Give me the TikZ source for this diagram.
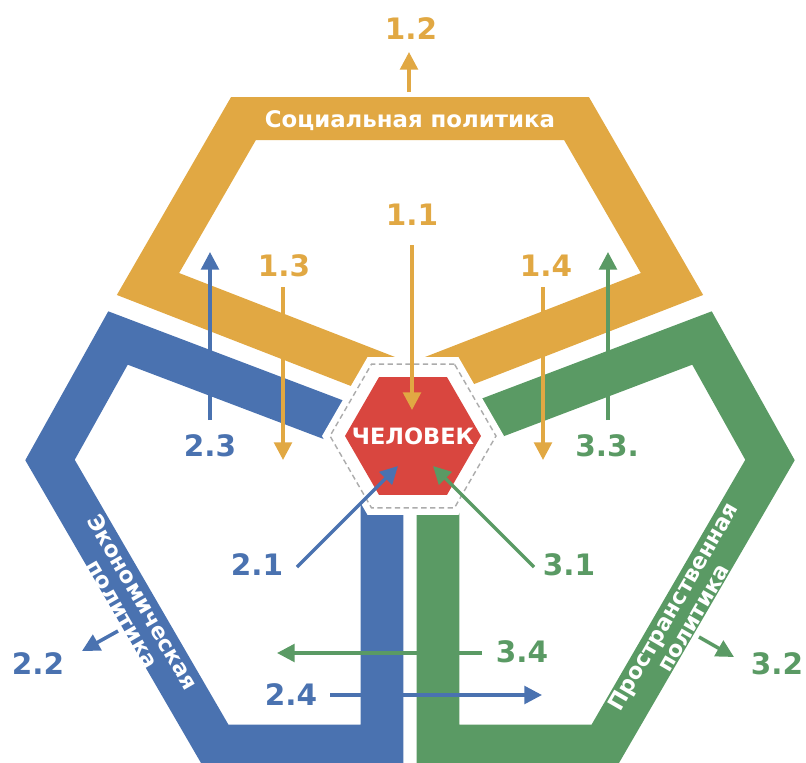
\documentclass[tikz,border=0pt]{standalone}
\usepackage{fontspec}
\setmainfont{DejaVu Sans}
\usetikzlibrary{arrows.meta,shapes.geometric}

\definecolor{socC}{HTML}{E1A843}
\definecolor{ecoC}{HTML}{4A72B0}
\definecolor{spaC}{HTML}{5A9A64}
\definecolor{manC}{HTML}{D9463F}

\begin{document}
\begin{tikzpicture}[x=0.02cm,y=-0.02cm,
  band/.style={line width=0.86cm,line join=miter},
  hexa/.style={regular polygon,regular polygon sides=6,inner sep=0pt},
  num/.style={font=\fontsize{16.8}{19}\selectfont\bfseries},
  flow/.style={line width=2pt,-{Triangle[length=10pt,width=10pt]}},
  policy/.style={font=\fontsize{12.6}{13.2}\selectfont\bfseries,text=white,align=center}]
  \useasboundingbox (0,0) rectangle (806,762);
  \clip (0,0) rectangle (806,762);

  % the three policy bands
  \draw[band,socC] (400,382) -- (148,284) -- (243.5,118.5) -- (576.5,118.5) -- (672,284) -- (420,382);
  \draw[band,ecoC] (400,445) -- (118,338) -- (50,460) -- (216,746) -- (382,746) -- (382,440);
  \draw[band,spaC] (420,445) -- (702,338) -- (770,460) -- (604,746) -- (438,746) -- (438,440);

  % centre
  \node[hexa,fill=white,minimum size=3.64cm] (clear) at (413,436) {};
  \node[hexa,draw=gray!65,dash pattern=on 3pt off 2pt,line width=0.8pt,minimum size=3.32cm] (ring) at (413,436) {};
  \node[hexa,fill=manC,minimum size=2.72cm] (man) at (413,436) {};
  \node[font=\fontsize{12.8}{14}\selectfont\bfseries,text=white] (mantext) at (man.center) {ЧЕЛОВЕК};

  % band titles
  \node[font=\fontsize{13}{15}\selectfont\bfseries,text=white] (soc) at (410,121) {Социальная политика};
  \node[policy,rotate=-60] (eco) at (133,608) {Экономическая\\политика};
  \node[policy,rotate=60] (spa) at (683,612) {Пространственная\\политика};

  % labels
  \node[num,text=socC] (l11) at (412,215) {1.1};
  \node[num,text=socC] (l12) at (411,29) {1.2};
  \node[num,text=socC] (l13) at (284,266) {1.3};
  \node[num,text=socC] (l14) at (546,266) {1.4};
  \node[num,text=ecoC] (l21) at (257,565) {2.1};
  \node[num,text=ecoC] (l22) at (38,664) {2.2};
  \node[num,text=ecoC] (l23) at (210,446) {2.3};
  \node[num,text=ecoC] (l24) at (291,695) {2.4};
  \node[num,text=spaC] (l31) at (569,565) {3.1};
  \node[num,text=spaC] (l32) at (777,664) {3.2};
  \node[num,text=spaC] (l33) at (607,446) {3.3.};
  \node[num,text=spaC] (l34) at (522,652) {3.4};

  % arrow ends
  \coordinate (s11) at (412,245); \coordinate (e11) at (412,410);
  \coordinate (s12) at (409,92);  \coordinate (e12) at (409,52);
  \coordinate (s13) at (283,287); \coordinate (e13) at (283,460);
  \coordinate (s14) at (543,287); \coordinate (e14) at (543,460);
  \coordinate (s21) at (297,567); \coordinate (e21) at (398,466);
  \coordinate (s22) at (118,631); \coordinate (e22) at (82,651);
  \coordinate (s23) at (210,420); \coordinate (e23) at (210,252);
  \coordinate (s24) at (330,695); \coordinate (e24) at (542,695);
  \coordinate (s31) at (534,567); \coordinate (e31) at (433,466);
  \coordinate (s32) at (699,637); \coordinate (e32) at (734,657);
  \coordinate (s33) at (608,420); \coordinate (e33) at (608,252);
  \coordinate (s34) at (482,653); \coordinate (e34) at (277,653);

  % arrows
  \draw[flow,socC] (s11) -- (e11);
  \draw[flow,socC] (s12) -- (e12);
  \draw[flow,socC] (s13) -- (e13);
  \draw[flow,socC] (s14) -- (e14);
  \draw[flow,ecoC] (s21) -- (e21);
  \draw[flow,ecoC] (s22) -- (e22);
  \draw[flow,ecoC] (s23) -- (e23);
  \draw[flow,ecoC] (s24) -- (e24);
  \draw[flow,spaC] (s31) -- (e31);
  \draw[flow,spaC] (s32) -- (e32);
  \draw[flow,spaC] (s33) -- (e33);
  \draw[flow,spaC] (s34) -- (e34);
\end{tikzpicture}
\end{document}
